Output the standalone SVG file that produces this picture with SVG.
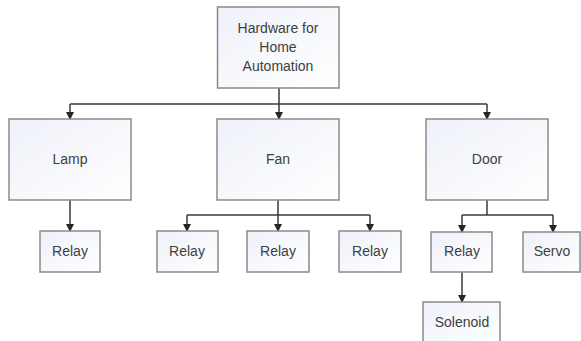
<svg xmlns="http://www.w3.org/2000/svg" width="581" height="341" viewBox="0 0 581 341">
<defs>
<linearGradient id="g" x1="0" y1="0" x2="1" y2="1">
<stop offset="0" stop-color="#eef1f9"/>
<stop offset="1" stop-color="#ffffff"/>
</linearGradient>
<marker id="ah" markerWidth="8" markerHeight="8" refX="7" refY="4" orient="auto" markerUnits="userSpaceOnUse">
<path d="M0,0 L8,4 L0,8 Z" fill="#262626"/>
</marker>
<style>
.box{fill:url(#g);stroke:#8a8a8a;stroke-width:1.5}
.t{font-family:"Liberation Sans",Arial,sans-serif;font-size:14px;fill:#404040;text-anchor:middle}
.c{fill:none;stroke:#3a3a3a;stroke-width:1.5}
.a{marker-end:url(#ah)}
</style>
</defs>
<rect width="581" height="341" fill="#ffffff"/>
<g id="connectors">
<path class="c" d="M279,88 V104"/>
<path class="c" d="M70,104 H487"/>
<path class="c a" d="M70,104 V119"/>
<path class="c a" d="M279,104 V119"/>
<path class="c a" d="M487,104 V119"/>
<path class="c a" d="M70,200 V231"/>
<path class="c" d="M278,200 V215"/>
<path class="c" d="M187,215 H370"/>
<path class="c a" d="M187,215 V231"/>
<path class="c a" d="M278,215 V231"/>
<path class="c a" d="M370,215 V231"/>
<path class="c" d="M487,200 V215"/>
<path class="c" d="M462,215 H553"/>
<path class="c a" d="M462,215 V232"/>
<path class="c a" d="M553,215 V232"/>
<path class="c a" d="M462,272 V302"/>
</g>
<g id="root"><rect class="box" x="217.5" y="7" width="121.5" height="81"/>
<text class="t" x="278" y="33">Hardware for</text><text class="t" x="278" y="52">Home</text><text class="t" x="278" y="71">Automation</text></g>
<g id="lamp"><rect class="box" x="9" y="119" width="122" height="81"/><text class="t" x="70" y="164">Lamp</text></g>
<g id="fan"><rect class="box" x="217" y="119" width="122" height="81"/><text class="t" x="278" y="164">Fan</text></g>
<g id="door"><rect class="box" x="426" y="119" width="122" height="81"/><text class="t" x="487" y="164">Door</text></g>
<g id="lampRelay"><rect class="box" x="40" y="231" width="60" height="41"/><text class="t" x="70" y="256">Relay</text></g>
<g id="fanRelay1"><rect class="box" x="157" y="231" width="61" height="41"/><text class="t" x="187" y="256">Relay</text></g>
<g id="fanRelay2"><rect class="box" x="247" y="231" width="62" height="41"/><text class="t" x="278" y="256">Relay</text></g>
<g id="fanRelay3"><rect class="box" x="339" y="231" width="62" height="41"/><text class="t" x="370" y="256">Relay</text></g>
<g id="doorRelay"><rect class="box" x="431" y="232" width="61" height="40"/><text class="t" x="462" y="256">Relay</text></g>
<g id="servo"><rect class="box" x="523" y="232" width="57" height="40"/><text class="t" x="552" y="256">Servo</text></g>
<g id="solenoid"><rect class="box" x="423" y="302" width="77" height="45"/><text class="t" x="462" y="327">Solenoid</text></g>
</svg>
